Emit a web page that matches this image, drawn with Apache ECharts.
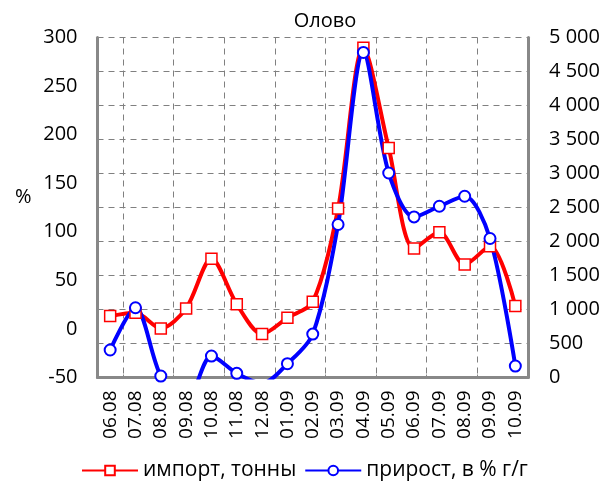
<!DOCTYPE html>
<html>
<head>
<meta charset="utf-8">
<script src="https://cdn.jsdelivr.net/npm/echarts@6/dist/echarts.min.js"></script>
<style>
html, body { margin: 0; padding: 0; background: #fff; }
#main { width: 607px; height: 485px; }
</style>
</head>
<body>
<div id="main"></div>
<script>
// данные
var months = ['06.08', '07.08', '08.08', '09.08', '10.08', '11.08', '12.08', '01.09', '02.09',
    '03.09', '04.09', '05.09', '06.09', '07.09', '08.09', '09.09', '10.09'];
// импорт, тонны (правая ось)
var importTons = [903, 952, 722, 1016, 1745, 1079, 639, 878, 1113,
    2485, 4849, 3374, 1897, 2135, 1662, 1931, 1050];
// прирост, в % г/г (левая ось)
var growthPct = [-21.7, 21.8, -48.5, -75, -27.9, -45.7, -56, -35.8, -5.3,
    107.5, 284.6, 160.5, 115.3, 126.3, 136.6, 93.1, -38.2];

var fontName = 'Open Sans';

var myChart = echarts.init(document.getElementById('main'));

var option = {
    animation: false,
    textStyle: { fontFamily: fontName },
    title: {
        text: 'Олово',
        left: 320,
        top: 6,
        textAlign: 'center',
        textStyle: { fontSize: 20, fontWeight: 'normal', color: '#000', fontFamily: fontName }
    },
    legend: {
        top: 455,
        left: 76,
        itemWidth: 56,
        itemHeight: 12,
        itemGap: 8,
        textStyle: { fontSize: 21, color: '#000', fontFamily: fontName },
        data: ['импорт, тонны', 'прирост, в % г/г']
    },
    grid: {
        left: 97.5,
        right: 79,
        top: 37.5,
        bottom: 107.5,
        containLabel: false
    },
    xAxis: {
        type: 'category',
        data: months,
        boundaryGap: true,
        axisLine: { onZero: false, lineStyle: { color: '#888', width: 3 } },
        axisTick: { show: true, inside: true, length: 3, interval: function (i) { return i % 2 === 1; }, lineStyle: { color: '#888' } },
        axisLabel: { rotate: 90, interval: 0, fontSize: 19, color: '#000', margin: 13, fontFamily: fontName },
        splitLine: {
            show: true,
            interval: function (i) { return i % 2 === 1; },
            lineStyle: { color: '#808080', type: [6, 5], width: 1 }
        }
    },
    yAxis: [{
        type: 'value',
        name: '%',
        nameLocation: 'middle',
        nameRotate: 0,
        nameGap: 66,
        nameTextStyle: { fontSize: 20, color: '#000', fontFamily: fontName, verticalAlign: 'bottom' },
        min: -50,
        max: 300,
        interval: 50,
        axisLine: { show: true, lineStyle: { color: '#888', width: 3 } },
        axisTick: { show: false },
        axisLabel: { fontSize: 20, color: '#000', margin: 20, fontFamily: fontName },
        splitLine: { show: false }
    }, {
        type: 'value',
        min: 0,
        max: 5000,
        interval: 500,
        axisLine: { show: true, lineStyle: { color: '#888', width: 3 } },
        axisTick: { show: false },
        axisLabel: {
            fontSize: 20, color: '#000', margin: 21, fontFamily: fontName,
            formatter: function (v) {
                return String(v).replace(/\B(?=(\d{3})+(?!\d))/g, ' ');
            }
        },
        splitLine: { show: true, lineStyle: { color: '#808080', type: [6, 5], width: 1 } }
    }],
    series: [{
        name: 'импорт, тонны',
        type: 'line',
        yAxisIndex: 1,
        data: importTons,
        smooth: 0.3,
        symbol: 'rect',
        symbolSize: 11,
        showAllSymbol: true,
        lineStyle: { color: '#ff0000', width: 4 },
        itemStyle: { color: '#ffffff', borderColor: '#ff0000', borderWidth: 1.5 }
    }, {
        name: 'прирост, в % г/г',
        type: 'line',
        yAxisIndex: 0,
        data: growthPct,
        smooth: 0.3,
        symbol: 'circle',
        symbolSize: 11,
        showAllSymbol: true,
        lineStyle: { color: '#0000ff', width: 4 },
        itemStyle: { color: '#ffffff', borderColor: '#0000ff', borderWidth: 2 }
    }]
};

myChart.setOption(option);
</script>
</body>
</html>
